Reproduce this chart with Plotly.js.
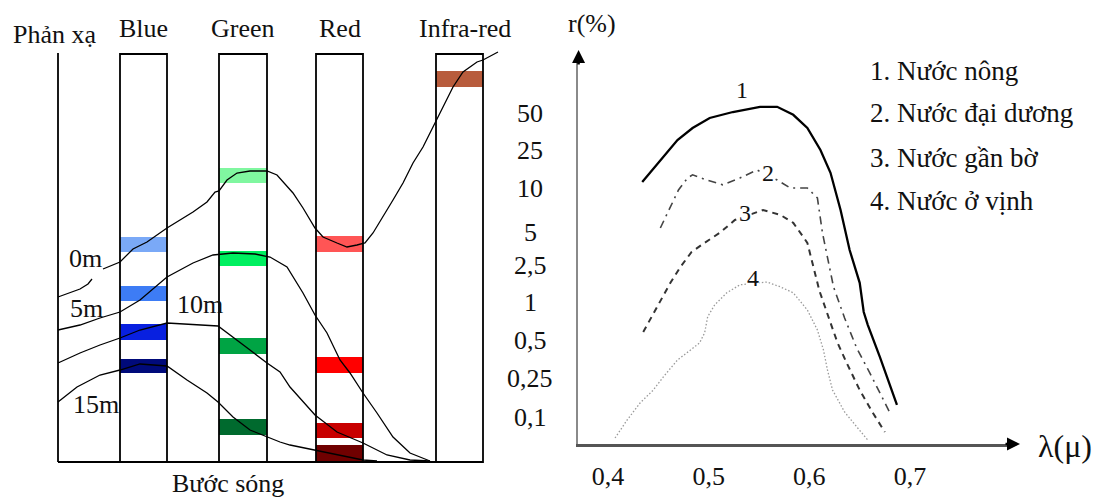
<!DOCTYPE html>
<html>
<head>
<meta charset="utf-8">
<script src="https://cdn.plot.ly/plotly-3.0.1.min.js"></script>
<style>html,body{margin:0;padding:0;background:#fff;}</style>
</head>
<body>
<div id="chart" style="width:1102px;height:500px;"></div>
<script>
// ---------- LEFT DIAGRAM (schematic units: x = wavelength position, y = reflectance level) ----------
const bandNames = ['Blue', 'Green', 'Red', 'Infra-red'];
const bandStart = [62, 161, 258, 378];
const bandEnd   = [109, 209, 305, 425];

// reflectance level scale (labels on the right of the diagram)
const levelLabels = ['50', '25', '10', '5', '2,5', '1', '0,5', '0,25', '0,1'];
const levelValues = [349, 312, 274, 230, 197, 160, 122, 84, 45];

// coloured reflectance bars in each band: [low, high]
const blueBars  = [[210, 225], [161, 176], [122, 138], [89, 103]];
const greenBars = [[279, 294], [196, 211], [108, 124], [27, 43]];
const redBars   = [[210, 226], [89, 105], [24, 39], [0, 17]];
const irBars    = [[375, 391]];

// reflectance curves for each water depth
const depthNames = ['0m', '5m', '10m', '15m'];
const depth0X = [0,10,22,30,34,null,45,62,75,89,109,122,135,149,157,161,169,179,192,209,219,235,245,257,265,279,289,299,307,315,325,335,345,355,365,375,379,385,395,405,419,425,440];
const depth0Y = [165,169,173,178,183,null,193,200,213,220,234,242,250,260,270,271,282,289,291,291,287,269,254,234,225,219,215,217,219,229,245,262,279,299,315,335,342,355,375,390,400,402,410];
const depth5X = [0,22,42,62,82,109,135,155,175,197,212,229,245,257,269,282,292,305,319,335,352,372];
const depth5Y = [132,137,144,150,162,185,199,207,209,208,205,195,169,147,129,102,89,69,49,25,9,1];
const depth10X = [0,22,42,62,82,99,109,160,175,192,209,222,232,257,279,305,329,352,372];
const depth10Y = [99,109,117,124,132,136,139,136,125,112,99,90,75,47,30,19,7,2,1];
const depth15X = [0,19,42,62,82,99,109,129,149,160,175,192,209,222,232,257,279,305,319];
const depth15Y = [60,75,87,92,98,97,96,82,69,60,45,32,25,20,17,12,7,2,1];

// ---------- RIGHT CHART: spectral reflectance r(%) vs wavelength λ(μ) ----------
const seriesNames = ['Nước nông', 'Nước đại dương', 'Nước gần bờ', 'Nước ở vịnh'];
const xTickVals = [0.4, 0.5, 0.6, 0.7];
const xTickText = ['0,4', '0,5', '0,6', '0,7'];

const wl1 = [0.434,0.452,0.469,0.484,0.501,0.524,0.551,0.568,0.584,0.598,0.611,0.621,0.631,0.640,0.650,0.654,0.658,0.670,0.687];
const r1  = [6.55,7.10,7.60,7.90,8.15,8.30,8.43,8.43,8.23,7.90,7.35,6.78,5.85,4.85,4.03,3.30,2.98,2.18,0.98];
const wl2 = [0.452,0.462,0.470,0.479,0.484,0.498,0.514,0.531,0.548,0.568,0.581,0.598,0.608,0.613,0.617,0.624,0.635,0.647,0.660,0.672,0.680];
const r2  = [5.40,5.93,6.35,6.65,6.73,6.60,6.48,6.65,6.85,6.60,6.40,6.40,6.15,5.28,4.80,3.93,3.15,2.40,1.78,1.18,0.78];
const wl3 = [0.435,0.449,0.462,0.472,0.483,0.496,0.511,0.526,0.554,0.571,0.584,0.598,0.603,0.610,0.621,0.628,0.637,0.650,0.663,0.675];
const r3  = [2.80,3.43,4.03,4.43,4.80,5.03,5.28,5.60,5.85,5.73,5.53,5.03,4.55,3.83,3.03,2.53,2.03,1.35,0.78,0.30];
const wl4 = [0.407,0.419,0.432,0.445,0.455,0.469,0.482,0.491,0.496,0.499,0.506,0.518,0.531,0.558,0.571,0.584,0.598,0.608,0.614,0.618,0.623,0.635,0.648,0.658];
const r4  = [0.15,0.60,1.03,1.35,1.68,2.10,2.35,2.53,2.78,3.18,3.48,3.78,3.98,4.05,3.93,3.78,3.35,2.85,2.35,1.85,1.35,0.80,0.40,0.10];
// curve number labels (placed at the data point they annotate)
const curveLabelX = [0.533, 0.559, 0.536, 0.544];
const curveLabelY = [8.85, 6.78, 5.78, 4.15];

// ---------- styles ----------
const FONT = 'Liberation Serif, Times New Roman, serif';
const TXT = '#111';
const blueColors  = ['#7aa9f7', '#3d7cf5', '#0820e0', '#000a7a'];
const greenColors = ['#80f7a0', '#00f060', '#00a444', '#006a2e'];
const redColors   = ['#ff5555', '#ff0000', '#c80000', '#700000'];
const irColors    = ['#b85c3c'];
const BOX_TOP = 408;

const barSets = [[blueBars, blueColors], [greenBars, greenColors], [redBars, redColors], [irBars, irColors]];

const shapes = [];
barSets.forEach(([bars, cols], i) => {
  bars.forEach((b, k) => {
    shapes.push({type:'rect', xref:'x', yref:'y', x0:bandStart[i], x1:bandEnd[i], y0:b[0], y1:b[1],
      fillcolor:cols[k], line:{width:0}, layer:'below'});
  });
});
bandNames.forEach((n, i) => {
  shapes.push({type:'rect', xref:'x', yref:'y', x0:bandStart[i], x1:bandEnd[i], y0:0, y1:BOX_TOP,
    fillcolor:'rgba(0,0,0,0)', line:{color:'#000', width:1.8}, layer:'below'});
});
shapes.push({type:'line', xref:'x', yref:'y', x0:0, x1:0, y0:0, y1:BOX_TOP + 1, line:{color:'#000', width:1.8}, layer:'below'});
shapes.push({type:'line', xref:'x', yref:'y', x0:0, x1:bandEnd[3], y0:0, y1:0, line:{color:'#000', width:1.8}, layer:'below'});

const traces = [];
[[depth0X, depth0Y], [depth5X, depth5Y], [depth10X, depth10Y], [depth15X, depth15Y]].forEach(([x, y], i) => {
  traces.push({x, y, xaxis:'x', yaxis:'y', mode:'lines', name:depthNames[i], connectgaps:false,
    line:{color:'#000', width:1.3}, hoverinfo:'skip', showlegend:false});
});
const rStyles = [
  {color:'#000', width:2.3, dash:'solid'},
  {color:'#444', width:1.6, dash:'8px,5px,2px,5px'},
  {color:'#333', width:2, dash:'6px,5px'},
  {color:'#9a9a9a', width:1.3, dash:'1.5px,2px'}
];
[[wl1, r1], [wl2, r2], [wl3, r3], [wl4, r4]].forEach(([x, y], i) => {
  traces.push({x, y, xaxis:'x2', yaxis:'y2', mode:'lines', name:seriesNames[i],
    line:rStyles[i], hoverinfo:'skip', showlegend:false});
});

const ann = [];
const t = (o) => Object.assign({showarrow:false, xanchor:'center', yanchor:'middle',
  font:{family:FONT, size:26, color:TXT}}, o);
ann.push(t({xref:'x', yref:'y', x:-3.5, y:428, text:'Phản xạ'}));
bandNames.forEach((n, i) => ann.push(t({xref:'x', yref:'y', x:(bandStart[i] + bandEnd[i]) / 2 + (i === 3 ? 5 : 0), y:434, text:n})));
levelLabels.forEach((l, i) => ann.push(t({xref:'x', yref:'y', x:472, y:levelValues[i], text:l})));
const depthLabelPos = [[27, 204], [28, 154], [142, 158], [37.5, 58]];
depthNames.forEach((n, i) => ann.push(t({xref:'x', yref:'y', x:depthLabelPos[i][0], y:depthLabelPos[i][1], text:n})));
ann.push(t({xref:'x', yref:'y', x:170, y:-21, text:'Bước sóng'}));

// right chart texts
ann.push(t({xref:'paper', yref:'paper', x:0.5372, y:0.954, text:'r(%)'}));
ann.push(t({xref:'paper', yref:'paper', x:0.9664, y:0.109, text:'λ(μ)', font:{family:FONT, size:32, color:TXT}}));
const legendY = [0.858, 0.774, 0.684, 0.598];
seriesNames.forEach((n, i) => ann.push(t({xref:'paper', yref:'paper', x:0.7877, y:legendY[i], xanchor:'left',
  text:(i + 1) + '. ' + n, font:{family:FONT, size:27, color:TXT}})));
curveLabelX.forEach((x, i) => ann.push(t({xref:'x2', yref:'y2', x, y:curveLabelY[i], text:String(i + 1),
  font:{family:FONT, size:24, color:TXT}, bgcolor:i === 0 ? 'rgba(0,0,0,0)' : '#fff', borderpad:0})));
// axis arrowheads
ann.push({xref:'paper', yref:'paper', x:0.9256, y:0.112, ax:-16, ay:0, text:'', showarrow:true,
  arrowhead:2, arrowsize:1, arrowwidth:2.6, arrowcolor:'#000'});
ann.push({xref:'paper', yref:'paper', x:0.5250, y:0.9, ax:0, ay:16, text:'', showarrow:true,
  arrowhead:2, arrowsize:1, arrowwidth:2.6, arrowcolor:'#000'});

const layout = {
  width:1102, height:500, margin:{l:0, r:0, t:0, b:0},
  paper_bgcolor:'#fff', plot_bgcolor:'rgba(0,0,0,0)', showlegend:false,
  xaxis:{domain:[0, 1], range:[-58, 1044], visible:false, fixedrange:true},
  yaxis:{domain:[0, 1], range:[-38, 462], visible:false, fixedrange:true},
  xaxis2:{domain:[578 / 1102, 1008 / 1102], range:[0.3702, 0.7973], anchor:'y2',
    showline:true, linecolor:'#555', linewidth:2.5, showgrid:false, zeroline:false,
    tickvals:xTickVals, ticktext:xTickText, ticks:'outside', ticklen:7, tickcolor:'rgba(0,0,0,0)',
    tickfont:{family:FONT, size:26, color:TXT}, fixedrange:true},
  yaxis2:{domain:[0.112, 0.884], range:[0, 9.65], anchor:'x2',
    showline:true, linecolor:'#8a8a8a', linewidth:2.5, showgrid:false, zeroline:false,
    showticklabels:false, ticks:'', fixedrange:true},
  shapes, annotations:ann
};
Plotly.newPlot('chart', traces, layout, {displayModeBar:false, staticPlot:true});
</script>
</body>
</html>
